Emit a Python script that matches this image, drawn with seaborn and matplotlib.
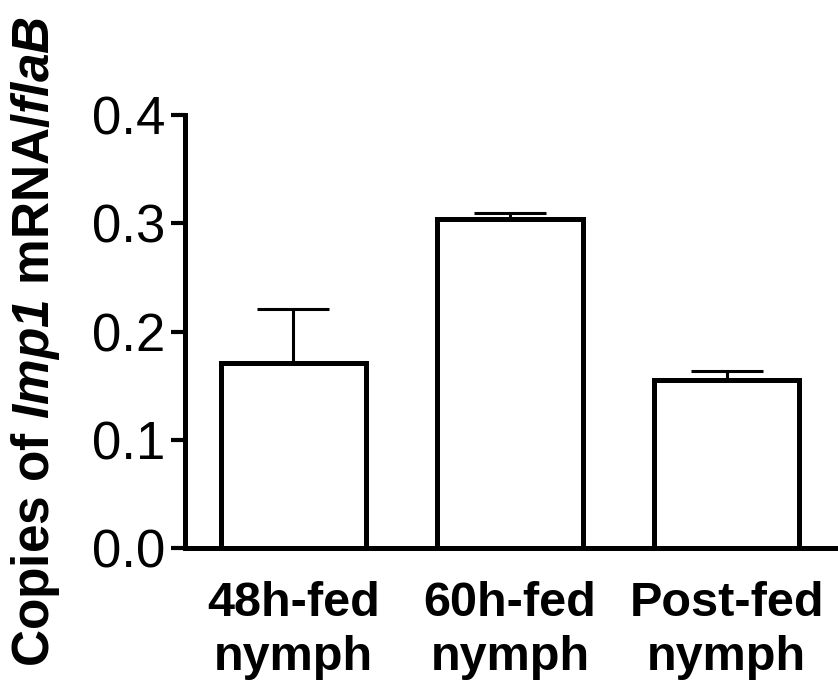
import seaborn as sns
import matplotlib.pyplot as plt
import numpy as np

# data
groups = ['48h-fed\nnymph', '60h-fed\nnymph', 'Post-fed\nnymph']
copies = [0.171, 0.304, 0.155]
err_up = [0.050, 0.005, 0.0085]
y_ticks = [0.0, 0.1, 0.2, 0.3, 0.4]

sns.set_style('ticks', {'axes.edgecolor': 'black', 'text.color': 'black',
                        'xtick.color': 'black', 'ytick.color': 'black',
                        'axes.labelcolor': 'black'})
plt.rcParams['font.family'] = ['Liberation Sans', 'DejaVu Sans']
plt.rcParams['mathtext.fontset'] = 'custom'
# only the gene names are in math mode, so make all of it bold italic
plt.rcParams['mathtext.rm'] = 'Liberation Sans:bold:italic'
plt.rcParams['mathtext.it'] = 'Liberation Sans:bold:italic'
plt.rcParams['mathtext.bf'] = 'Liberation Sans:bold:italic'

fig = plt.figure(figsize=(8.38, 6.96), dpi=100)
ax = fig.add_axes([0.2208, 0.2126, 0.7756, 0.6222])

sns.barplot(x=groups, y=copies, ax=ax, color='white', edgecolor='black',
            linewidth=3.6, width=0.67, errorbar=None, zorder=3)
ax.errorbar(x=np.arange(len(groups)), y=copies,
            yerr=[np.zeros(len(copies)), err_up], fmt='none',
            ecolor='black', elinewidth=2.2, capsize=26, capthick=2.2, zorder=2)

ax.set_xlim(-0.5, 2.5)
ax.set_ylim(0, 0.4)
ax.set_yticks(y_ticks)
ax.set_yticklabels([f'{t:.1f}' for t in y_ticks])
sns.despine(ax=ax)
for s in ['left', 'bottom']:
    ax.spines[s].set_linewidth(3.6)
    ax.spines[s].set_color('black')

ax.tick_params(axis='y', length=10, width=3, pad=4, labelsize=38, colors='black')
ax.tick_params(axis='x', length=0, pad=24, colors='black')
for tick in ax.get_xticklabels():
    tick.set_fontsize(35)
    tick.set_fontweight('bold')
    tick.set_linespacing(1.25)

ax.set_xlabel('')
ax.set_ylabel(r'Copies of $\mathit{Imp1}$ mRNA/$\mathit{flaB}$',
              fontsize=37, fontweight='bold', color='black')
ax.yaxis.set_label_coords(-0.19, 0.476)

fig.savefig('out.png', dpi=100)
plt.close()
